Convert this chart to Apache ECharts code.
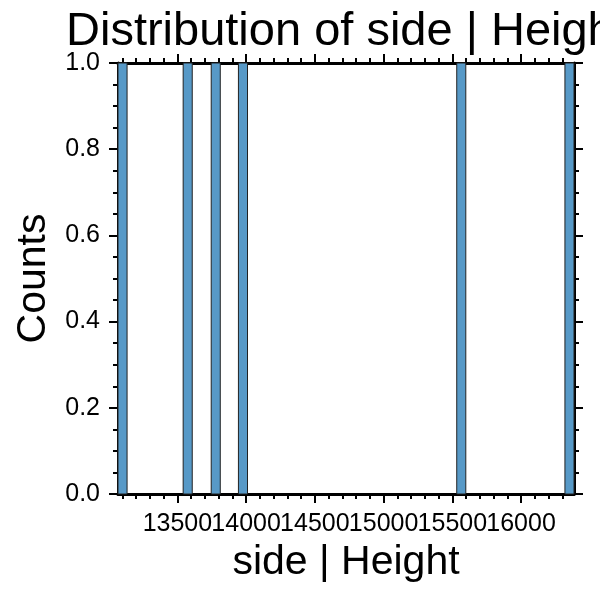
<!DOCTYPE html>
<html>
<head>
<meta charset="utf-8">
<script src="https://cdn.jsdelivr.net/npm/echarts@6/dist/echarts.min.js"></script>
<style>
  html, body { margin: 0; padding: 0; background: #fff; }
  #main { width: 600px; height: 600px; }
</style>
</head>
<body>
<div id="main"></div>
<script>
// histogram bins (only non-empty ones)
const binStarts = [13068, 13542, 13746, 13944, 15532, 16319]
const binEnds = [13134, 13608, 13812, 14010, 15598, 16385]
const counts = [1, 1, 1, 1, 1, 1]

const xMin = 13068
const xMax = 16385
const xMajorTicks = [13500, 14000, 14500, 15000, 15500, 16000]
const xMinorTicks = [13100, 13200, 13300, 13400, 13600, 13700, 13800, 13900,
  14100, 14200, 14300, 14400, 14600, 14700, 14800, 14900,
  15100, 15200, 15300, 15400, 15600, 15700, 15800, 15900,
  16100, 16200, 16300]

const font = 'Liberation Sans, Arial, sans-serif'
const chart = echarts.init(document.getElementById('main'))

const binData = binStarts.map((s, i) => [s, binEnds[i], counts[i]])

// labels touch each other, so split them over two axes (echarts hides overlaps)
const labelsA = xMajorTicks.filter((v, i) => i % 2 === 0)
const labelsB = xMajorTicks.filter((v, i) => i % 2 === 1)
const tickLabel = values => ({
  customValues: values, fontFamily: font, fontSize: 25, color: '#000', margin: 18,
  formatter: v => String(v)
})

const xBase = { type: 'value', min: xMin, max: xMax, splitLine: { show: false } }
const xAxes = [
  Object.assign({}, xBase, {
    position: 'bottom',
    name: 'side | Height', nameLocation: 'middle', nameGap: 48,
    nameTextStyle: { fontFamily: font, fontSize: 41, color: '#000' },
    axisLine: { lineStyle: { color: '#000', width: 3 } },
    axisTick: { customValues: xMajorTicks, length: 9, lineStyle: { color: '#000', width: 2 } },
    axisLabel: tickLabel(labelsA)
  }),
  Object.assign({}, xBase, {
    position: 'bottom',
    axisLine: { show: false },
    axisTick: { customValues: xMinorTicks, length: 5, lineStyle: { color: '#000', width: 2 } },
    axisLabel: tickLabel(labelsB)
  }),
  Object.assign({}, xBase, {
    position: 'top',
    axisLine: { lineStyle: { color: '#000', width: 3 } },
    axisTick: { customValues: xMajorTicks, length: 9, lineStyle: { color: '#000', width: 2 } },
    axisLabel: { show: false }
  }),
  Object.assign({}, xBase, {
    position: 'top',
    axisLine: { show: false },
    axisTick: { customValues: xMinorTicks, length: 5, lineStyle: { color: '#000', width: 2 } },
    axisLabel: { show: false }
  })
]

const yBase = {
  type: 'value', min: 0, max: 1, interval: 0.2,
  splitLine: { show: false },
  axisLine: { show: true, lineStyle: { color: '#000', width: 3 } },
  axisTick: { show: true, length: 9, lineStyle: { color: '#000', width: 2 } },
  minorTick: { show: true, splitNumber: 4, length: 5, lineStyle: { color: '#000', width: 2 } }
}

const option = {
  animation: false,
  backgroundColor: '#fff',
  title: {
    text: 'Distribution of side | Height',
    left: 61, top: 4,
    textStyle: { fontFamily: font, fontSize: 47, fontWeight: 'normal', color: '#000' }
  },
  grid: { left: 118, right: 26, top: 63, bottom: 106 },
  xAxis: xAxes,
  yAxis: [
    Object.assign({}, yBase, {
      position: 'left',
      name: 'Counts', nameLocation: 'middle', nameGap: 64,
      nameTextStyle: { fontFamily: font, fontSize: 41, color: '#000' },
      axisLabel: {
        fontFamily: font, fontSize: 25, color: '#000', margin: 18,
        formatter: v => v.toFixed(1)
      }
    }),
    Object.assign({}, yBase, {
      position: 'right',
      axisLabel: { show: false }
    })
  ],
  series: [
    {
      type: 'custom',
      xAxisIndex: 0,
      yAxisIndex: 0,
      data: binData,
      renderItem: (params, api) => {
        const p0 = api.coord([api.value(0), 0])
        const p1 = api.coord([api.value(1), api.value(2)])
        return {
          type: 'rect',
          shape: { x: p0[0], y: p1[1], width: p1[0] - p0[0], height: p0[1] - p1[1] },
          style: { fill: '#5799c7', stroke: '#222', lineWidth: 1 }
        }
      }
    }
  ]
}

chart.setOption(option)
</script>
</body>
</html>
